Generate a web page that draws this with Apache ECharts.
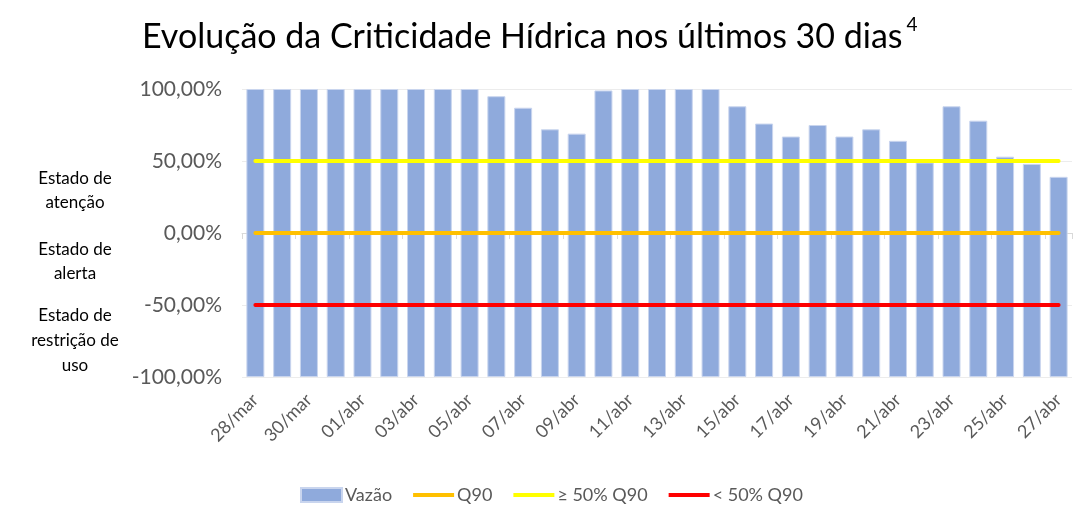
<!DOCTYPE html>
<html>
<head>
<meta charset="utf-8">
<script src="https://cdn.jsdelivr.net/npm/echarts@6/dist/echarts.min.js"></script>
<style>
html,body{margin:0;padding:0;background:#fff;}
#c{width:1084px;height:506px;}
</style>
</head>
<body>
<div id="c"></div>
<script>
const categories = ['28/mar','29/mar','30/mar','31/mar','01/abr','02/abr','03/abr','04/abr','05/abr','06/abr','07/abr','08/abr','09/abr','10/abr','11/abr','12/abr','13/abr','14/abr','15/abr','16/abr','17/abr','18/abr','19/abr','20/abr','21/abr','22/abr','23/abr','24/abr','25/abr','26/abr','27/abr'];
const vazao = [100,100,100,100,100,100,100,100,100,95,87,72,69,99,100,100,100,100,88,76,67,75,67,72,64,49,88,78,53,48,39];
const levelQ90 = 0;
const levelAbove50 = 50;
const levelBelow50 = -50;
const axisMin = -100;
const axisMax = 100;
const axisInterval = 50;
const stateLabels = ['Estado de\natenção','Estado de\nalerta','Estado de\nrestrição de\nuso'];

const FONT = 'Lato, "Open Sans", sans-serif';
const chart = echarts.init(document.getElementById('c'));
const fmt = v => v.toFixed(2).replace('.', ',') + '%';
const lineIcon = 'path://M0,0 L41,0 M0,5 L41,5 L41,9 L0,9 Z M0,14 L41,14';

const option = {
  backgroundColor: '#fff',
  animation: false,
  title: {
    text: '{a|Evolução da Criticidade Hídrica nos últimos 30 dias}{b|4}',
    left: 137, top: 10,
    textStyle: {
      rich: {
        a: {fontFamily: FONT, fontSize: 34, fontWeight: 'normal', color: '#000', lineHeight: 44},
        b: {fontFamily: FONT, fontSize: 19, fontWeight: 'normal', color: '#000', verticalAlign: 'top', lineHeight: 44, padding:[0,0,0,4]}
      }
    }
  },
  legend: {
    left: 295, top: 481,
    itemWidth: 41, itemHeight: 14, itemGap: 21,
    textStyle: {fontFamily: FONT, fontSize: 18, color: '#595959', padding:[0,0,0,-2]},
    data: [
      {name: 'Vazão', icon: 'rect'},
      {name: 'Q90', icon: lineIcon},
      {name: '≥ 50% Q90', icon: lineIcon},
      {name: '< 50% Q90', icon: lineIcon}
    ]
  },
  grid: {left: 242, right: 12, top: 89, bottom: 129, containLabel: false},
  xAxis: {
    type: 'category', data: categories,
    axisLine: {lineStyle: {color: '#d9d9d9', width: 1}},
    axisTick: {show: true, interval: 1, length: 6, lineStyle: {color: '#d9d9d9'}},
    axisLabel: {interval: 1, rotate: 45, fontFamily: FONT, fontSize: 18, color: '#595959', margin: 20}
  },
  yAxis: {
    type: 'value', min: axisMin, max: axisMax, interval: axisInterval,
    axisLine: {show: false}, axisTick: {show: false},
    splitLine: {lineStyle: {color: '#ececec', width: 1}},
    axisLabel: {formatter: fmt, fontFamily: FONT, fontSize: 21, color: '#595959', margin: 20}
  },
  series: [
    {
      name: '_base', type: 'bar', stack: 'v', stackStrategy: 'all', silent: true,
      data: categories.map(() => axisMin),
      itemStyle: {color: 'rgba(0,0,0,0)'}, barWidth: 18
    },
    {
      name: 'Vazão', type: 'bar', stack: 'v', stackStrategy: 'all',
      data: vazao.map(v => v - axisMin),
      barWidth: 18,
      itemStyle: {color: '#8faadc', borderColor: '#c9d5ee', borderWidth: 1}
    },
    {
      name: '< 50% Q90', type: 'line', data: categories.map(() => levelBelow50),
      symbol: 'none', lineStyle: {color: '#ff0000', width: 4, cap: 'round'}, itemStyle: {color: '#ff0000'}, z: 3
    },
    {
      name: 'Q90', type: 'line', data: categories.map(() => levelQ90),
      symbol: 'none', lineStyle: {color: '#ffc000', width: 4, cap: 'round'}, itemStyle: {color: '#ffc000'}, z: 3
    },
    {
      name: '≥ 50% Q90', type: 'line', data: categories.map(() => levelAbove50),
      symbol: 'none', lineStyle: {color: '#ffff00', width: 4, cap: 'round'}, itemStyle: {color: '#ffff00'}, z: 3
    }
  ],
  graphic: [
    {type: 'text', x: 75, y: 191, style: {text: stateLabels[0], font: '17px ' + FONT, fill: '#000', align: 'center', verticalAlign: 'middle', lineHeight: 24}},
    {type: 'text', x: 75, y: 262, style: {text: stateLabels[1], font: '17px ' + FONT, fill: '#000', align: 'center', verticalAlign: 'middle', lineHeight: 24}},
    {type: 'text', x: 75, y: 341, style: {text: stateLabels[2], font: '17px ' + FONT, fill: '#000', align: 'center', verticalAlign: 'middle', lineHeight: 25}}
  ]
};
chart.setOption(option);
</script>
</body>
</html>
